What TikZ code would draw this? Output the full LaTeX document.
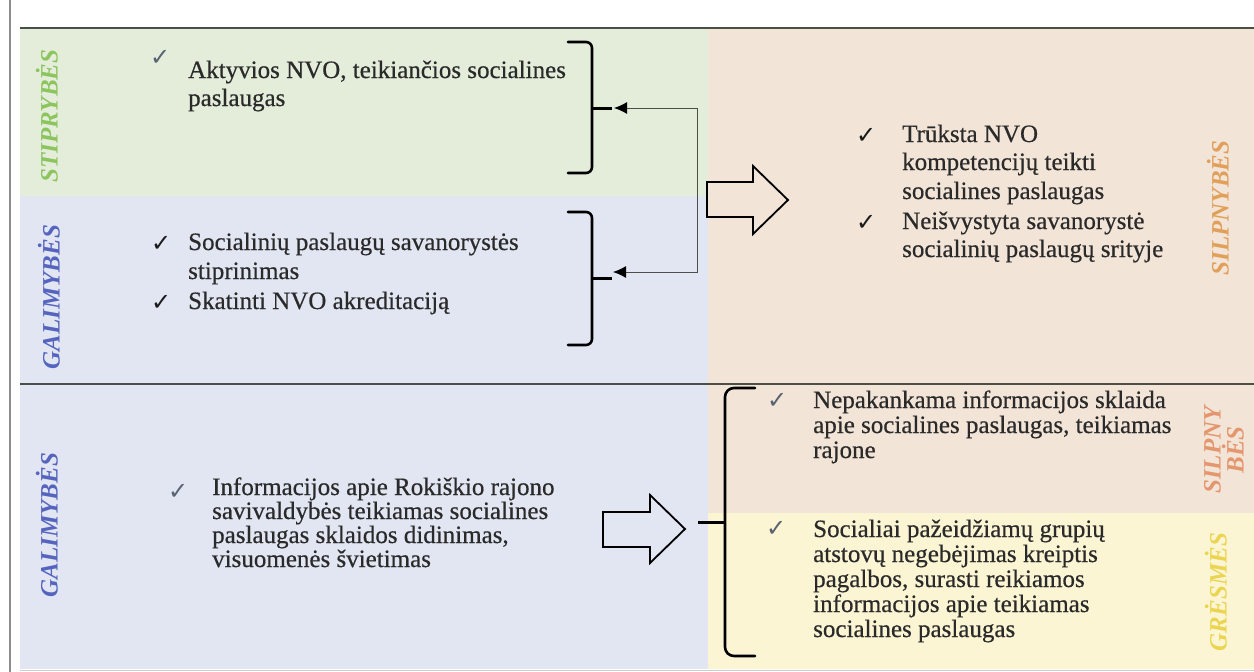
\documentclass[tikz,border=0pt]{standalone}
\usepackage{fontspec}
\setmainfont{Liberation Serif}
\newfontfamily\bodyfont{Liberation Serif}[FakeBold=0.5]
\newfontfamily\checkfont{DejaVu Sans}
\usetikzlibrary{arrows.meta}
\definecolor{greenbg}{HTML}{E3EDDA}
\definecolor{bluebg}{HTML}{E1E6F2}
\definecolor{peachbg}{HTML}{F2E4D7}
\definecolor{yellowbg}{HTML}{FCF5D4}
\definecolor{bodytext}{HTML}{2A2A2A}
\definecolor{labgreen}{HTML}{8CC45E}
\definecolor{labblue}{HTML}{5564BE}
\definecolor{laborange}{HTML}{E0A05A}
\definecolor{labsalmon}{HTML}{E4966E}
\definecolor{labyellow}{HTML}{EBD550}
\definecolor{checklight}{HTML}{5A6272}
\definecolor{checkdark}{HTML}{1A1A1A}
\definecolor{rulecol}{HTML}{4E4E48}
\begin{document}
\begin{tikzpicture}[x=1pt,y=-1pt,
  body/.style={anchor=base west, inner sep=0pt, text=bodytext, font=\bodyfont\fontsize{25}{28}\selectfont},
  chk/.style={anchor=base west, inner sep=0pt, font=\checkfont\fontsize{24}{24}\selectfont},
  chkl/.style={chk, text=checklight},
  chkd/.style={chk, text=checkdark},
  lab/.style={rotate=90, inner sep=0pt, align=center, font=\fontsize{25}{21}\selectfont\bfseries\itshape},
  bracket/.style={line width=2.6pt, line cap=round, line join=round, rounded corners=6pt},
  spur/.style={line width=3pt},
  hollow/.style={line width=1.8pt, line join=miter},
  conn/.style={line width=1pt, draw=rulecol, {Latex[length=13pt,width=12pt,color=black]}-{Latex[length=13pt,width=12pt,color=black]}},
  rule/.style={line width=2.4pt, draw=rulecol}
]
\useasboundingbox (0,0) rectangle (1254,672);
\fill[white] (0,0) rectangle (1254,672);
% regions
\fill[greenbg]  (20,29) rectangle (708,196);
\fill[bluebg]   (20,196) rectangle (708,384);
\fill[peachbg]  (708,29) rectangle (1254,384);
\fill[bluebg]   (20,384) rectangle (708,669);
\fill[peachbg]  (708,384) rectangle (1254,513);
\fill[yellowbg] (708,513) rectangle (1254,669);
% rules
\draw[line width=2.5pt, draw=black!45] (10,0) -- (10,672);
\draw[rule] (20,28) -- (1254,28);
\draw[rule, line width=2pt] (20,384) -- (1254,384);
\draw[line width=1pt, draw=black!20] (20,670) -- (1254,670);
% labels
\node[lab, text=labgreen]  (lstr) at (47,116) {STIPRYBĖS};
\node[lab, text=labblue]   (lgal1) at (49,297) {GALIMYBĖS};
\node[lab, text=laborange] (lsil1) at (1218,208) {SILPNYBĖS};
\node[lab, text=labblue]   (lgal2) at (47,525) {GALIMYBĖS};
\node[lab, text=labsalmon] (lsil2) at (1224,450) {SILPNY\\BĖS};
\node[lab, text=labyellow] (lgre) at (1216,592) {GRĖSMĖS};
% block A
\node[chkl] (ca1) at (150,65) {✓};
\node[body] (a1) at (188,78) {Aktyvios NVO, teikiančios socialines};
\node[body] (a2) at (188,106) {paslaugas};
% block B
\node[chkd] (cb1) at (151,251) {✓};
\node[body] (b1) at (188,250) {Socialinių paslaugų savanorystės};
\node[body] (b2) at (188,279) {stiprinimas};
\node[chkd] (cb2) at (151,310) {✓};
\node[body] (b3) at (188,309) {Skatinti NVO akreditaciją};
% block C
\node[chkd] (cc1) at (856,143) {✓};
\node[body] (c1) at (902,142) {Trūksta NVO};
\node[body] (c2) at (902,170) {kompetencijų teikti};
\node[body] (c3) at (902,199) {socialines paslaugas};
\node[chkd] (cc2) at (856,230) {✓};
\node[body] (c4) at (902,229) {Neišvystyta savanorystė};
\node[body] (c5) at (902,257) {socialinių paslaugų srityje};
% block D
\node[chkl] (cd1) at (168,499) {✓};
\node[body] (d1) at (212,495) {Informacijos apie Rokiškio rajono};
\node[body] (d2) at (212,519) {savivaldybės teikiamas socialines};
\node[body] (d3) at (212,543) {paslaugas sklaidos didinimas,};
\node[body] (d4) at (212,567) {visuomenės švietimas};
% block E
\node[chkl] (ce1) at (767,408) {✓};
\node[body] (e1) at (813,408) {Nepakankama informacijos sklaida};
\node[body] (e2) at (813,433) {apie socialines paslaugas, teikiamas};
\node[body] (e3) at (813,458) {rajone};
% block F
\node[chkl] (cf1) at (766,536) {✓};
\node[body] (f1) at (813,537) {Socialiai pažeidžiamų grupių};
\node[body] (f2) at (813,562) {atstovų negebėjimas kreiptis};
\node[body] (f3) at (813,587) {pagalbos, surasti reikiamos};
\node[body] (f4) at (813,612) {informacijos apie teikiamas};
\node[body] (f5) at (813,637) {socialines paslaugas};
% brackets upper
\draw[bracket] (568,42) -- (592,42) -- (592,173) -- (568,173);
\draw[spur] (592,108) -- (612,108);
\coordinate (tipA) at (614,108);
\draw[bracket] (568,212) -- (592,212) -- (592,345) -- (568,345);
\draw[spur] (592,278) -- (612,278);
\coordinate (tipB) at (613,272);
\coordinate (elbowA) at (697,108);
\coordinate (elbowB) at (697,272);
\draw[conn] (tipA) -- (elbowA) -- (elbowB) -- (tipB);
% bracket lower
\draw[bracket, rounded corners=9pt] (755,388) -- (725,388) -- (725,656) -- (755,656);
\draw[spur] (698,522) -- (725,522);
% hollow arrows
\draw[hollow] (707,182) -- (753,182) -- (753,166) -- (788,200) -- (753,234) -- (753,217) -- (707,217) -- cycle;
\draw[hollow] (603,512) -- (650,512) -- (650,495) -- (685,529) -- (650,563) -- (650,547) -- (603,547) -- cycle;
\end{tikzpicture}
\end{document}
